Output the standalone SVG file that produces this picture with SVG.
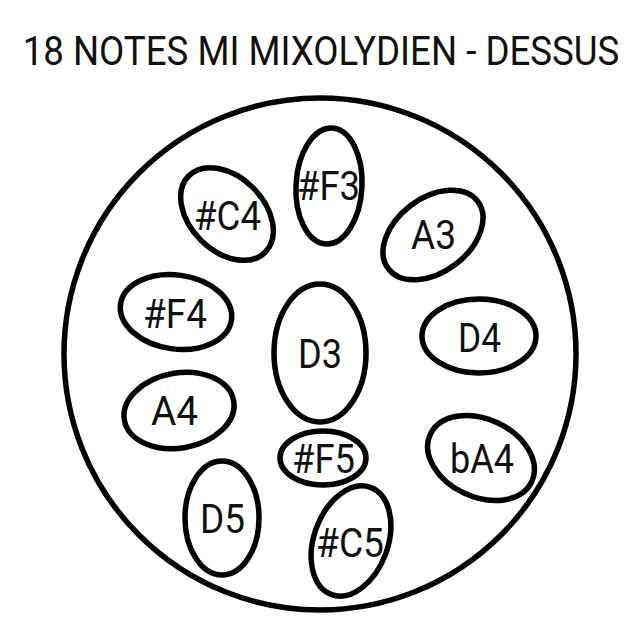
<svg xmlns="http://www.w3.org/2000/svg" width="640" height="640" viewBox="0 0 640 640">
<style>
.o{fill:none;stroke:#000;stroke-width:5.5}
.t{font-family:Roboto,"Liberation Sans",sans-serif;font-size:40px;fill:#111;text-anchor:middle}
</style>
<rect width="640" height="640" fill="#fff"/>
<text id="title" class="t" x="0" y="0" transform="translate(321 65) scale(0.917 1)">18 NOTES MI MIXOLYDIEN - DESSUS</text>
<g id="pan"><circle class="o" cx="320" cy="354" r="256" stroke-width="6"/></g>
<g id="n-F3"><ellipse class="o" cx="329" cy="186" rx="33" ry="58" transform="rotate(3 329 186)"/><text class="t" x="328.5" y="200" textLength="63" lengthAdjust="spacingAndGlyphs">#F3</text></g>
<g id="n-C4"><ellipse class="o" cx="227" cy="214" rx="54" ry="37" transform="rotate(45 227 214)"/><text class="t" x="227.5" y="230" textLength="67" lengthAdjust="spacingAndGlyphs">#C4</text></g>
<g id="n-A3"><ellipse class="o" cx="433" cy="235" rx="56" ry="37" transform="rotate(-37 433 235)"/><text class="t" x="433.5" y="249" textLength="45" lengthAdjust="spacingAndGlyphs">A3</text></g>
<g id="n-F4"><ellipse class="o" cx="176" cy="312" rx="56" ry="37" transform="rotate(8 176 312)"/><text class="t" x="175" y="328" textLength="64" lengthAdjust="spacingAndGlyphs">#F4</text></g>
<g id="n-D3"><ellipse class="o" cx="320" cy="353" rx="46" ry="69"/><text class="t" x="320" y="368" textLength="44" lengthAdjust="spacingAndGlyphs">D3</text></g>
<g id="n-D4"><ellipse class="o" cx="479" cy="336" rx="57" ry="37"/><text class="t" x="479.5" y="352" textLength="43" lengthAdjust="spacingAndGlyphs">D4</text></g>
<g id="n-A4"><ellipse class="o" cx="179" cy="410.5" rx="55.5" ry="37.5" transform="rotate(-10 179 410.5)"/><text class="t" x="174.5" y="425" textLength="47" lengthAdjust="spacingAndGlyphs">A4</text></g>
<g id="n-F5"><ellipse class="o" cx="323" cy="458" rx="43" ry="27"/><text class="t" x="323.5" y="473" textLength="63" lengthAdjust="spacingAndGlyphs">#F5</text></g>
<g id="n-bA4"><ellipse class="o" cx="481" cy="458" rx="56" ry="39" transform="rotate(25 481 458)"/><text class="t" x="482" y="473" textLength="64" lengthAdjust="spacingAndGlyphs">bA4</text></g>
<g id="n-D5"><ellipse class="o" cx="222" cy="518" rx="37" ry="57"/><text class="t" x="222.5" y="533" textLength="45" lengthAdjust="spacingAndGlyphs">D5</text></g>
<g id="n-C5"><ellipse class="o" cx="351" cy="541" rx="37" ry="57" transform="rotate(20 351 541)"/><text class="t" x="350" y="557" textLength="68" lengthAdjust="spacingAndGlyphs">#C5</text></g>
</svg>
